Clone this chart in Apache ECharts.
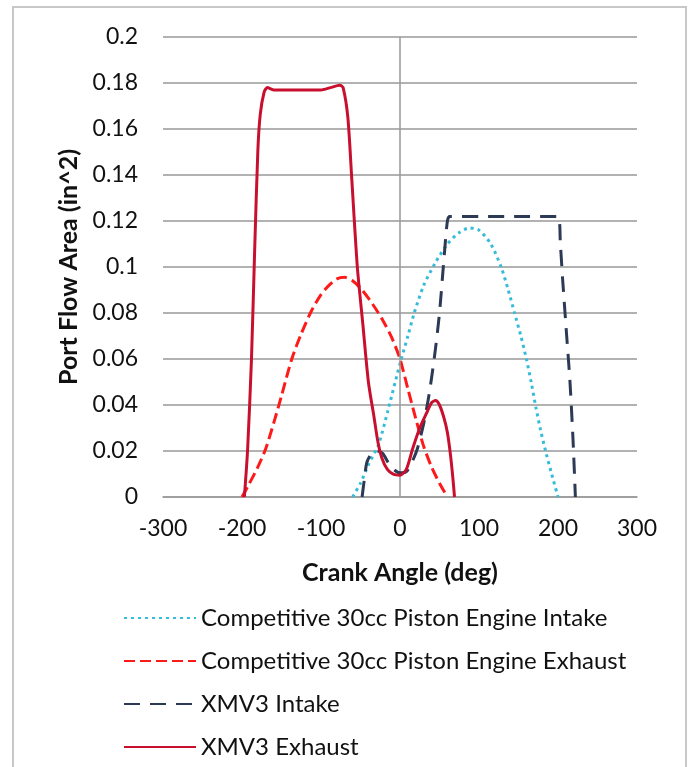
<!DOCTYPE html>
<html>
<head>
<meta charset="utf-8">
<script src="https://cdn.jsdelivr.net/npm/echarts@6/dist/echarts.min.js"></script>
<style>
html,body{margin:0;padding:0;background:#fff;}
#chart{width:691px;height:767px;}
</style>
</head>
<body>
<div id="chart"></div>
<script>
// ---- data ----
const xTicks = [-300, -200, -100, 0, 100, 200, 300];
const yTicks = [0, 0.02, 0.04, 0.06, 0.08, 0.1, 0.12, 0.14, 0.16, 0.18, 0.2];
const seriesNames = [
  'Competitive 30cc Piston Engine Intake',
  'Competitive 30cc Piston Engine Exhaust',
  'XMV3 Intake',
  'XMV3 Exhaust'
];
const compIntake = [[-60,0],[-50,0.006],[-40,0.014],[-27,0.023],[-15,0.038],[0,0.058],[10,0.07],[18,0.08],[30,0.092],[45,0.102],[60,0.11],[75,0.115],[88,0.117],[100,0.116],[115,0.11],[128,0.1],[137,0.09],[145,0.08],[153,0.07],[160,0.06],[166,0.05],[172,0.039],[178,0.029],[185,0.019],[192,0.01],[200,0]];
const compExhaust = [[-200,0],[-192,0.005],[-180,0.013],[-170,0.021],[-160,0.032],[-150,0.044],[-137,0.06],[-125,0.071],[-112,0.081],[-100,0.088],[-90,0.092],[-80,0.0948],[-70,0.0955],[-60,0.094],[-48,0.09],[-35,0.084],[-22,0.077],[-10,0.069],[0,0.06],[10,0.047],[20,0.034],[30,0.022],[40,0.013],[50,0.006],[60,0]];
const xmvIntake = [[-48,0],[-45,0.008],[-42,0.015],[-36,0.019],[-30,0.02],[-22,0.019],[-15,0.015],[-8,0.012],[0,0.0105],[8,0.011],[15,0.015],[22,0.021],[30,0.032],[37,0.045],[44,0.062],[50,0.08],[56,0.105],[60,0.12],[63,0.122],[100,0.122],[150,0.122],[200,0.122],[203,0.11],[206,0.094],[211,0.07],[215,0.051],[219,0.025],[222,0]];
const xmvExhaust = [[-197,0],[-193,0.02],[-188,0.06],[-184,0.107],[-180,0.15],[-177,0.166],[-172,0.176],[-168,0.178],[-160,0.177],[-130,0.177],[-100,0.177],[-88,0.178],[-76,0.179],[-72,0.178],[-66,0.165],[-61,0.138],[-54,0.1],[-47,0.075],[-40,0.05],[-33,0.035],[-28,0.024],[-23,0.017],[-16,0.012],[-8,0.0098],[0,0.0095],[8,0.012],[16,0.021],[25,0.03],[33,0.036],[40,0.041],[45,0.042],[50,0.04],[56,0.034],[60,0.028],[64,0.018],[67,0.008],[69,0]];

const FONT = 'Lato, "Open Sans", sans-serif';
const chart = echarts.init(document.getElementById('chart'));
function lineSeries(name, data, color, type, z) {
  return {
    name: name, type: 'line', data: data, showSymbol: false, symbol: 'none',
    smooth: 0.25, z: z,
    lineStyle: { color: color, width: 3, type: type, cap: 'butt' },
    itemStyle: { color: color }
  };
}
chart.setOption({
  backgroundColor: '#fff',
  animation: false,
  graphic: [{
    type: 'rect', shape: { x: 13, y: 7, width: 673, height: 800 },
    style: { fill: 'none', stroke: '#c8c8c8', lineWidth: 2 }, silent: true
  }],
  grid: { left: 163, right: 54, top: 37, bottom: 270 },
  xAxis: {
    type: 'value', min: -300, max: 300, interval: 100,
    name: 'Crank Angle (deg)', nameLocation: 'middle', nameGap: 63,
    nameTextStyle: { fontFamily: FONT, fontWeight: 'bold', fontSize: 25, color: '#111' },
    axisLine: { show: true, lineStyle: { color: '#999', width: 1.5 } },
    axisTick: { show: false },
    splitLine: { show: false },
    axisLabel: { fontFamily: FONT, fontSize: 23, color: '#111', margin: 20,
      formatter: v => xTicks.includes(v) ? String(v) : '' }
  },
  yAxis: {
    type: 'value', min: 0, max: 0.2, interval: 0.02,
    name: 'Port Flow Area (in^2)', nameLocation: 'middle', nameGap: 80,
    nameTextStyle: { fontFamily: FONT, fontWeight: 'bold', fontSize: 25, color: '#111' },
    axisLine: { show: false },
    axisTick: { show: false },
    splitLine: { show: true, lineStyle: { color: '#999', width: 1.5 } },
    axisLabel: { fontFamily: FONT, fontSize: 23, color: '#111', margin: 25,
      formatter: v => { const t = yTicks.find(k => Math.abs(k - v) < 1e-9); return t === undefined ? '' : String(t); } }
  },
  legend: {
    orient: 'vertical', left: 118, top: 601,
    data: seriesNames,
    itemWidth: 72, itemHeight: 14, itemGap: 19,
    itemStyle: { opacity: 0 },
    textStyle: { fontFamily: FONT, fontSize: 24, color: '#111' }
  },
  series: [
    { name: '_axis0', type: 'line', data: [], z: 1, silent: true,
      markLine: { silent: true, symbol: ['none', 'none'], label: { show: false },
        lineStyle: { color: '#999', width: 1.5, type: 'solid' },
        data: [{ xAxis: 0 }] } },
    lineSeries(seriesNames[0], compIntake, '#35BCD8', [3, 4], 3),
    lineSeries(seriesNames[1], compExhaust, '#FF1A1A', [11, 5], 4),
    lineSeries(seriesNames[2], xmvIntake, '#2C3A56', [16, 10], 5),
    lineSeries(seriesNames[3], xmvExhaust, '#C8102E', 'solid', 6)
  ]
});
</script>
</body>
</html>
